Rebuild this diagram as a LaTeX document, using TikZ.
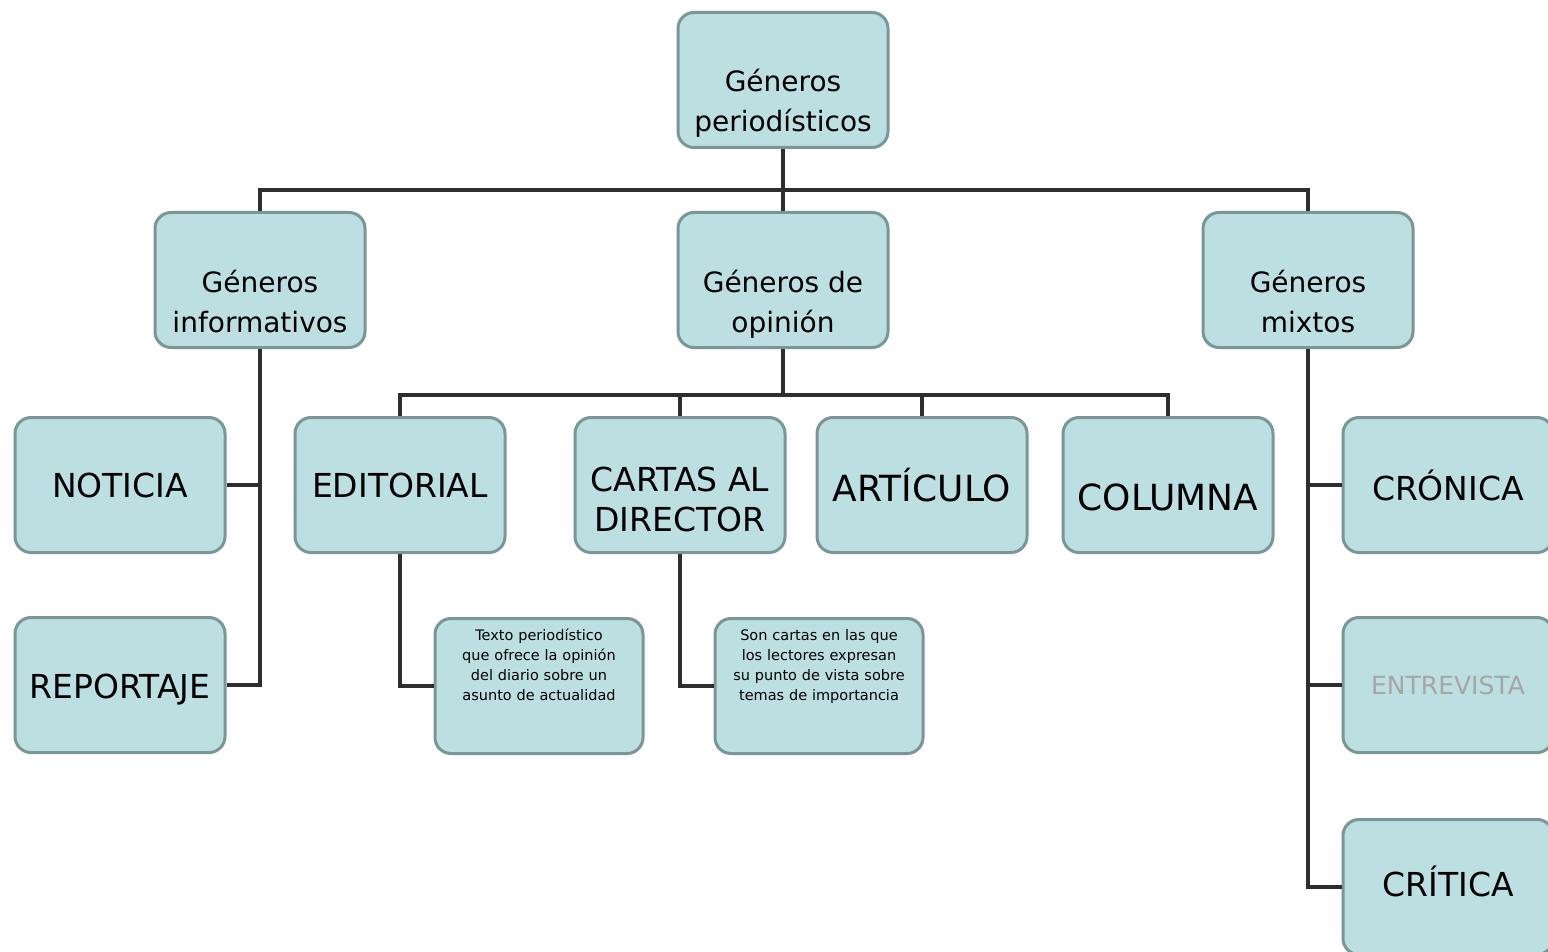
\documentclass[tikz,border=0pt]{standalone}
\usepackage{fontspec}
\setmainfont{DejaVu Sans}
\definecolor{relleno}{HTML}{BCE0E2}
\definecolor{borde}{HTML}{7A9696}
\definecolor{raya}{HTML}{2E2E2E}
\tikzset{
  caja/.style={draw=borde, line width=3pt, fill=relleno, rounded corners=16pt,
    minimum width=210pt, minimum height=135pt, align=center, inner sep=2pt},
  grande/.style={caja, font=\fontsize{33}{40}\selectfont},
  genero/.style={caja, font=\fontsize{28}{40}\selectfont, text height=112pt, text depth=8pt},
  cajita/.style={caja, minimum width=208pt, text width=198pt, anchor=north,
    font=\fontsize{14.5}{20}\selectfont, inner sep=5pt, text height=12pt, text depth=104pt},
  linea/.style={draw=raya, line width=4.5pt}
}
\begin{document}
\begin{tikzpicture}[x=1pt,y=-1pt]
\clip (0,0) rectangle (1548,952);
\fill[white] (0,0) rectangle (1548,952);

\node[genero] (raiz) at (783,80) {Géneros\\periodísticos};
\node[genero] (info) at (260,280) {Géneros\\informativos};
\node[genero] (opin) at (783,280) {Géneros de\\opinión};
\node[genero] (mixt) at (1308,280) {Géneros\\mixtos};

\node[grande] (noti) at (120,485) {NOTICIA};
\node[grande, text height=34pt, text depth=8pt] (repo) at (120,685) {REPORTAJE};

\node[grande] (edit) at (400,485) {EDITORIAL};
\node[grande, text height=100pt, text depth=8pt] (cart) at (680,485) {CARTAS AL\\DIRECTOR};
\node[grande, font=\fontsize{36}{40}\selectfont] (arti) at (922,485) {ARTÍCULO};
\node[grande, font=\fontsize{36}{40}\selectfont, text height=50pt, text depth=0pt] (colu) at (1168,485) {COLUMNA};

\node[cajita] (texto) at (539,617) {Texto periodístico que ofrece la opinión del diario sobre un asunto de actualidad};
\node[cajita] (cartas) at (819,617) {Son cartas en las que los lectores expresan su punto de vista sobre temas de importancia};

\node[grande] (cron) at (1448,485) {CRÓNICA};
\node[grande, font=\fontsize{25}{30}\selectfont, text=gray!70] (entr) at (1448,685) {ENTREVISTA};
\node[grande, text height=26pt, text depth=8pt] (crit) at (1448,887) {CRÍTICA};

% conectores
\coordinate (barra) at (783,190);
\coordinate (obarra) at (783,395);
\draw[linea] (raiz) -- (opin);
\draw[linea] (info.north) |- (barra) -| (mixt.north);

\draw[linea] (info.south) |- (repo.east);
\draw[linea] (noti.east) -- (noti.east -| info.south);

\draw[linea] (opin) -- (obarra);
\draw[linea] (edit.north) |- (obarra) -| (colu.north);
\draw[linea] (cart.north) -- (cart.north |- obarra);
\draw[linea] (arti.north) -- (arti.north |- obarra);
\draw[linea] (edit.south) |- (texto.west);
\draw[linea] (cart.south) |- (cartas.west);

\draw[linea] (mixt.south) |- (crit.west);
\draw[linea] (cron.west) -- (cron.west -| mixt.south);
\draw[linea] (entr.west) -- (entr.west -| mixt.south);
\end{tikzpicture}
\end{document}
